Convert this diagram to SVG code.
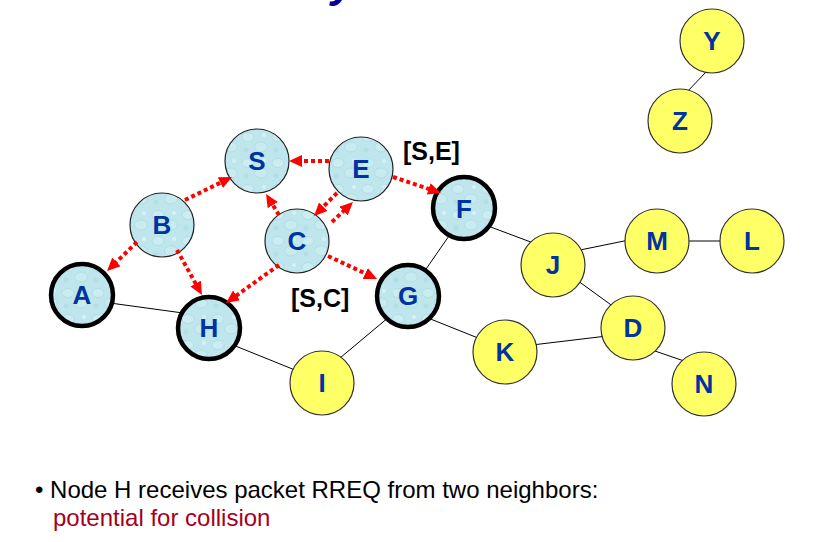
<svg xmlns="http://www.w3.org/2000/svg" width="816" height="542" viewBox="0 0 816 542">
<defs>
<pattern id="tex" width="30" height="26" patternUnits="userSpaceOnUse">
<rect width="30" height="26" fill="#bfe6ec"/>
<ellipse cx="8" cy="7" rx="6" ry="4.5" fill="#cbedf1" stroke="#a9d8de" stroke-width="0.7"/>
<ellipse cx="21" cy="17" rx="6.5" ry="5" fill="#c8ebef" stroke="#aad8de" stroke-width="0.7"/>
<circle cx="24" cy="5" r="2" fill="#d6f2f5"/>
<circle cx="6" cy="20" r="2.5" fill="#b3dfe5"/>
</pattern>
<marker id="ah" markerUnits="userSpaceOnUse" markerWidth="13" markerHeight="12" refX="5" refY="6" orient="auto">
<path d="M0,0 L13,6 L0,12 z" fill="#ff0000"/>
</marker>
<style>
.cy circle{fill:url(#tex);stroke:#222;stroke-width:1.2}
.cy.thick circle{stroke:#000;stroke-width:4.5}
.yl circle{fill:#ffff66;stroke:#333;stroke-width:1.2}
.lbl{font-family:"Liberation Sans",Arial,sans-serif;font-weight:bold;font-size:26px;fill:#0033a0;text-anchor:middle}
.link{stroke:#000;stroke-width:1;fill:none}
.req{stroke:#ff0000;stroke-width:4;stroke-dasharray:4 3;fill:none;marker-end:url(#ah)}
.tag{font-family:"Liberation Sans",Arial,sans-serif;font-weight:bold;font-size:25px;fill:#000}
.body{font-family:"Liberation Sans",Arial,sans-serif;font-size:24px;fill:#000}
.red{fill:#a50021}
</style>
</defs>
<rect width="816" height="542" fill="#ffffff"/>
<text x="331" y="-3" font-family="'Liberation Sans',Arial,sans-serif" font-weight="bold" font-style="italic" font-size="44" fill="#000099">y</text>
<g id="links">
<line class="link" x1="110" y1="303" x2="183" y2="313"/>
<line class="link" x1="233" y1="345" x2="295" y2="370"/>
<line class="link" x1="334" y1="363" x2="389" y2="317"/>
<line class="link" x1="424" y1="272" x2="451" y2="233"/>
<line class="link" x1="428" y1="318" x2="478" y2="338"/>
<line class="link" x1="488" y1="226" x2="536" y2="244"/>
<line class="link" x1="580" y1="250" x2="629" y2="240"/>
<line class="link" x1="685" y1="241" x2="725" y2="241"/>
<line class="link" x1="574" y1="278" x2="614" y2="307"/>
<line class="link" x1="532" y1="345" x2="607" y2="336"/>
<line class="link" x1="652" y1="350" x2="687" y2="362"/>
<line class="link" x1="707" y1="71" x2="685" y2="94"/>
</g>
<g id="node-S" class="cy"><circle cx="257" cy="161" r="32"/><text class="lbl" x="257" y="170">S</text></g>
<g id="node-E" class="cy"><circle cx="361" cy="169" r="32"/><text class="lbl" x="361" y="178">E</text></g>
<g id="node-B" class="cy"><circle cx="162" cy="225" r="32"/><text class="lbl" x="162" y="234">B</text></g>
<g id="node-C" class="cy"><circle cx="297" cy="241" r="32"/><text class="lbl" x="297" y="250">C</text></g>
<g id="node-F" class="cy thick"><circle cx="464" cy="208" r="31"/><text class="lbl" x="464" y="218">F</text></g>
<g id="node-A" class="cy thick"><circle cx="82" cy="295" r="31"/><text class="lbl" x="82" y="304">A</text></g>
<g id="node-H" class="cy thick"><circle cx="209" cy="328" r="31"/><text class="lbl" x="209" y="337">H</text></g>
<g id="node-G" class="cy thick"><circle cx="408" cy="296" r="31"/><text class="lbl" x="408" y="305">G</text></g>
<g id="node-I" class="yl"><circle cx="322" cy="383" r="32"/><text class="lbl" x="322" y="392">I</text></g>
<g id="node-J" class="yl"><circle cx="553" cy="265" r="32"/><text class="lbl" x="553" y="274">J</text></g>
<g id="node-M" class="yl"><circle cx="657" cy="241" r="32"/><text class="lbl" x="657" y="250">M</text></g>
<g id="node-L" class="yl"><circle cx="752" cy="241" r="32"/><text class="lbl" x="752" y="250">L</text></g>
<g id="node-D" class="yl"><circle cx="633" cy="328" r="32"/><text class="lbl" x="633" y="337">D</text></g>
<g id="node-K" class="yl"><circle cx="505" cy="352" r="32"/><text class="lbl" x="505" y="361">K</text></g>
<g id="node-N" class="yl"><circle cx="704" cy="384" r="32"/><text class="lbl" x="704" y="393">N</text></g>
<g id="node-Y" class="yl"><circle cx="712" cy="41" r="32"/><text class="lbl" x="712" y="50">Y</text></g>
<g id="node-Z" class="yl"><circle cx="680" cy="121" r="32"/><text class="lbl" x="680" y="130">Z</text></g>
<g id="rreq">
<line class="req" x1="329" y1="161" x2="297" y2="161"/>
<line class="req" x1="185" y1="200" x2="224.8" y2="180.5"/>
<line class="req" x1="279" y1="215" x2="270.2" y2="200.8"/>
<line class="req" x1="337" y1="193" x2="319.7" y2="210.3"/>
<line class="req" x1="332" y1="222" x2="347.2" y2="207.5"/>
<line class="req" x1="393" y1="177" x2="433.4" y2="190.5"/>
<line class="req" x1="137" y1="242" x2="112.8" y2="265.4"/>
<line class="req" x1="177" y1="250" x2="198.1" y2="288"/>
<line class="req" x1="279" y1="265" x2="232.5" y2="298.3"/>
<line class="req" x1="328" y1="256" x2="369.8" y2="275.6"/>
</g>
<text class="tag" x="403" y="160">[S,E]</text>
<text class="tag" x="291" y="307">[S,C]</text>
<text class="body" x="35" y="498">• Node H receives packet RREQ from two neighbors:</text>
<text class="body red" x="53" y="526">potential for collision</text>
</svg>
